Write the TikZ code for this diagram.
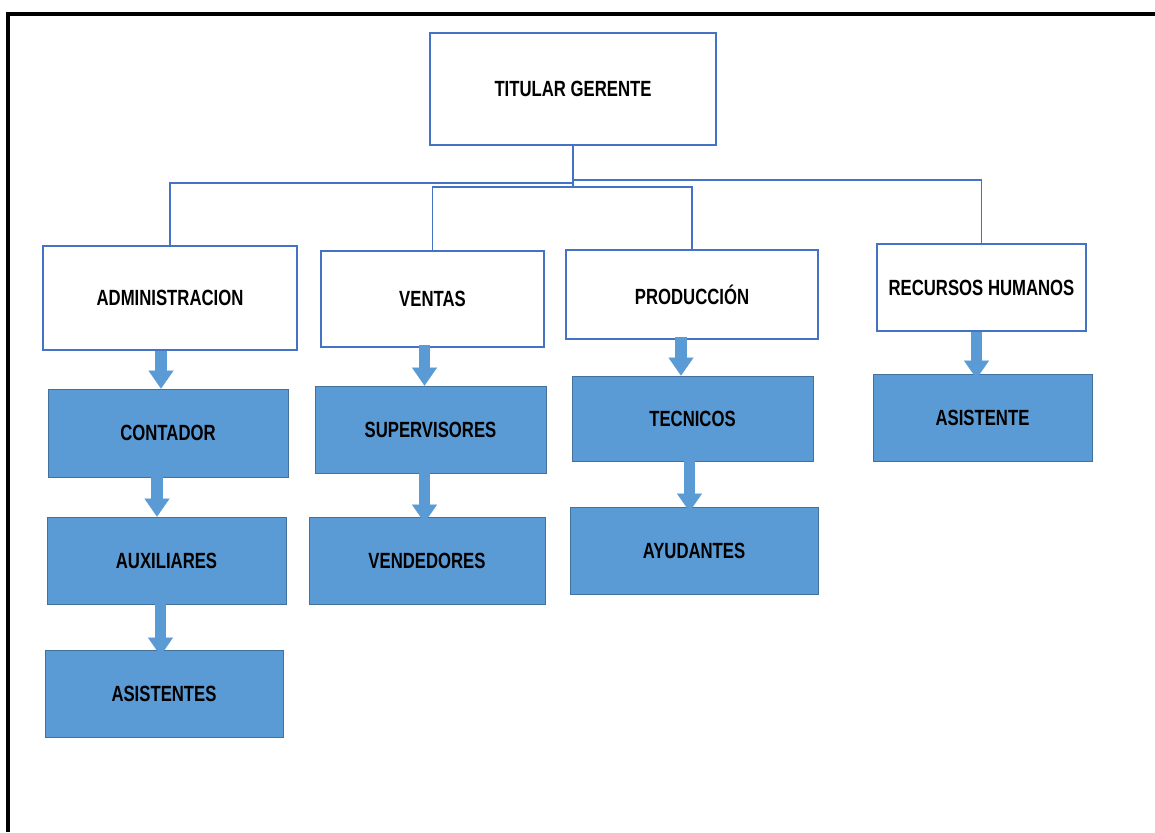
\documentclass[tikz,border=0pt]{standalone}
\usepackage{fontspec}
\newfontfamily\orgfont[FakeStretch=0.76]{Liberation Sans}
\usetikzlibrary{arrows.meta,calc}
\definecolor{lineblue}{HTML}{4472C4}
\definecolor{boxblue}{HTML}{5B9BD5}
\definecolor{edgeblue}{HTML}{41719C}
\begin{document}
\begin{tikzpicture}[x=1pt,y=-1pt]
      \tikzstyle{wnode} = [draw=lineblue, line width=1.2pt, fill=white, rectangle, inner sep=0pt, align=center, font=\orgfont\bfseries\fontsize{22}{25}\selectfont]
      \tikzstyle{bnode} = [draw=edgeblue, line width=0.8pt, fill=boxblue, rectangle, inner sep=0pt, align=center, font=\orgfont\bfseries\fontsize{22}{25}\selectfont]
      \tikzstyle{link} = [draw=lineblue, line width=1.4pt]
      \tikzstyle{blockarrow} = [draw=boxblue, line width=11.5pt, -{Triangle[width=25pt,length=18pt,line width=0.1pt]}]

      \useasboundingbox (0,0) rectangle (1155,832);
      \draw[line width=3.2pt] (1155,14) -- (8,14) -- (8,832);

      \node[wnode, minimum width=286pt, minimum height=112pt] (tit) at (573,89) {TITULAR GERENTE};

      \node[wnode, minimum width=254pt, minimum height=104pt] (adm) at (170,298) {ADMINISTRACION};
      \node[wnode, minimum width=223pt, minimum height=96pt] (ven) at (432.5,299) {VENTAS};
      \node[wnode, minimum width=252pt, minimum height=89pt] (pro) at (692,294.5) {PRODUCCIÓN};
      \node[wnode, minimum width=209pt, minimum height=87pt] (rrhh) at (981.5,287.5) {RECURSOS HUMANOS};

      \node[bnode, minimum width=240pt, minimum height=88pt] (cont) at (168,433) {CONTADOR};
      \node[bnode, minimum width=239pt, minimum height=87pt] (aux) at (166.5,560.5) {AUXILIARES};
      \node[bnode, minimum width=238pt, minimum height=87pt] (asis) at (164,693.5) {ASISTENTES};

      \node[bnode, minimum width=231pt, minimum height=87pt] (sup) at (430.5,429.5) {SUPERVISORES};
      \node[bnode, minimum width=236pt, minimum height=87pt] (vend) at (427,560.5) {VENDEDORES};

      \node[bnode, minimum width=241pt, minimum height=85pt] (tec) at (692.5,418.5) {TECNICOS};
      \node[bnode, minimum width=248pt, minimum height=87pt] (ayu) at (694,550.5) {AYUDANTES};

      \node[bnode, minimum width=219pt, minimum height=87pt] (asi) at (982.5,417.5) {ASISTENTE};

      % bus lines under the manager
      \coordinate (busR) at (573,180);
      \coordinate (busL) at (573,183);
      \coordinate (busM) at (573,187);
      \draw[link] (tit.south) -- (busM);
      \draw[link] (busL) -| (adm.north);
      \draw[link] (busR) -| (rrhh.north);
      \draw[link] (ven.north) |- (busM) -| (pro.north);

      % block arrows
      \draw[blockarrow] ([xshift=-9pt]adm.south) -- ([xshift=-9pt]adm.south |- cont.north);
      \draw[blockarrow] ([xshift=-11pt]cont.south) -- ([xshift=-11pt]cont.south |- aux.north);
      \draw[blockarrow] ([xshift=-6pt]aux.south) -- ([xshift=-6pt,yshift=-6pt]aux.south |- asis.north);
      \draw[blockarrow] ([xshift=-8pt,yshift=3pt]ven.south) -- ([xshift=-8pt]ven.south |- sup.north);
      \draw[blockarrow] ([xshift=-6pt]sup.south) -- ([xshift=-6pt,yshift=-6pt]sup.south |- vend.north);
      \draw[blockarrow] ([xshift=-11pt,yshift=3pt]pro.south) -- ([xshift=-11pt]pro.south |- tec.north);
      \draw[blockarrow] ([xshift=-3pt,yshift=4pt]tec.south) -- ([xshift=-3pt,yshift=-5pt]tec.south |- ayu.north);
      \draw[blockarrow] ([xshift=-5pt]rrhh.south) -- ([xshift=-5pt,yshift=-5pt]rrhh.south |- asi.north);

    \end{tikzpicture}
\end{document}
